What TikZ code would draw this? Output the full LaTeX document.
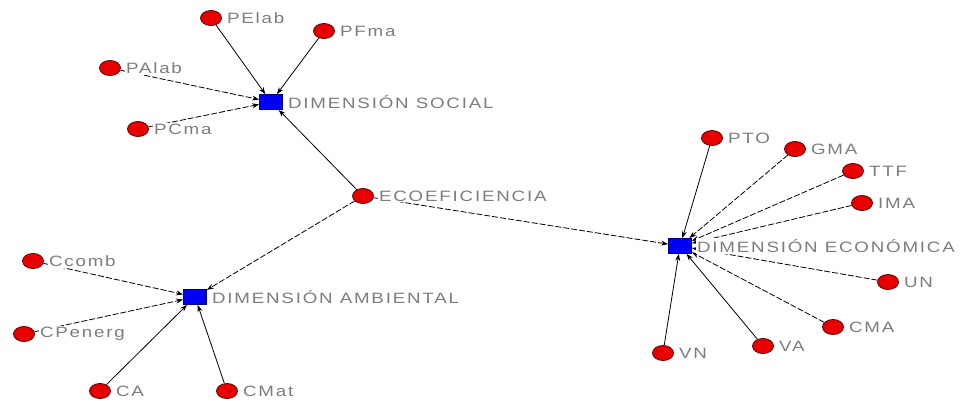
\documentclass[tikz,border=0pt]{standalone}
\usepackage{fontspec}
\setmainfont{Liberation Sans}
\newfontfamily\netfont[FakeStretch=1.25,LetterSpace=12]{Liberation Sans}
\usepackage{xcolor}
\usepackage{tikz}
\usetikzlibrary{shapes.geometric, arrows.meta, backgrounds}
\definecolor{nodered}{RGB}{232, 0, 0}
\definecolor{nodeblue}{RGB}{0, 0, 250}
\definecolor{labelgray}{RGB}{125, 125, 125}

\begin{document}
\begin{tikzpicture}[
    x=1pt, y=-1pt,
    indicator/.style={ellipse, draw=red!35!black, fill=nodered, line width=0.8pt,
                      minimum width=21pt, minimum height=15pt, inner sep=0pt},
    dimension/.style={rectangle, draw=blue!45!black, fill=nodeblue, line width=0.8pt,
                      minimum width=23pt, minimum height=15pt, inner sep=0pt},
    tag/.style={font=\netfont\fontsize{15}{15}\selectfont, text=labelgray,
                fill=white, inner sep=1pt, label distance=4pt},
    link/.style={-{Stealth[length=7pt,width=5pt]}, line width=0.8pt},
    dlink/.style={link, dash pattern=on 6pt off 2pt}
]
\useasboundingbox (0,0) rectangle (966,402);

% Center
\node[indicator, label={[tag]right:ECOEFICIENCIA}] (eco) at (363,196) {};

% Dimensions
\node[dimension, label={[tag]right:DIMENSIÓN SOCIAL}] (social) at (271,102) {};
\node[dimension, label={[tag]right:DIMENSIÓN AMBIENTAL}] (ambiental) at (195,297) {};
\node[dimension, label={[tag]right:DIMENSIÓN ECONÓMICA}] (economica) at (680,246) {};

% Social indicators
\node[indicator, label={[tag]right:PElab}] (pelab) at (211,18) {};
\node[indicator, label={[tag]right:PFma}] (pfma) at (324,31) {};
\node[indicator, label={[tag]right:PAlab}] (palab) at (110,68) {};
\node[indicator, label={[tag]right:PCma}] (pcma) at (138,129) {};

% Environmental indicators
\node[indicator, label={[tag]right:Ccomb}] (ccomb) at (33,261) {};
\node[indicator, label={[tag]right:CPenerg}] (cpenerg) at (24,334) {};
\node[indicator, label={[tag]right:CA}] (ca) at (100,391) {};
\node[indicator, label={[tag]right:CMat}] (cmat) at (227,391) {};

% Economic indicators
\node[indicator, label={[tag]right:PTO}] (pto) at (712,138) {};
\node[indicator, label={[tag]right:GMA}] (gma) at (795,149) {};
\node[indicator, label={[tag]right:TTF}] (ttf) at (853,171) {};
\node[indicator, label={[tag]right:IMA}] (ima) at (862,203) {};
\node[indicator, label={[tag]right:UN}] (un) at (888,282) {};
\node[indicator, label={[tag]right:CMA}] (cma) at (833,327) {};
\node[indicator, label={[tag]right:VA}] (va) at (763,346) {};
\node[indicator, label={[tag]right:VN}] (vn) at (663,353) {};

% Arrows
\begin{scope}[on background layer]
\draw[link] (eco) -- (social);
\draw[dlink] (eco) -- (ambiental);
\draw[dlink] (eco) -- (economica);

\draw[link] (pelab) -- (social);
\draw[link] (pfma) -- (social);
\draw[dlink] (palab) -- (social);
\draw[dlink] (pcma) -- (social);

\draw[dlink] (ccomb) -- (ambiental);
\draw[dlink] (cpenerg) -- (ambiental);
\draw[link] (ca) -- (ambiental);
\draw[link] (cmat) -- (ambiental);

\draw[link] (pto) -- (economica);
\draw[dlink] (gma) -- (economica);
\draw[dlink] (ttf) -- (economica);
\draw[dlink] (ima) -- (economica);
\draw[dlink] (un) -- (economica);
\draw[dlink] (cma) -- (economica);
\draw[link] (va) -- (economica);
\draw[link] (vn) -- (economica);
\end{scope}

\end{tikzpicture}
\end{document}
